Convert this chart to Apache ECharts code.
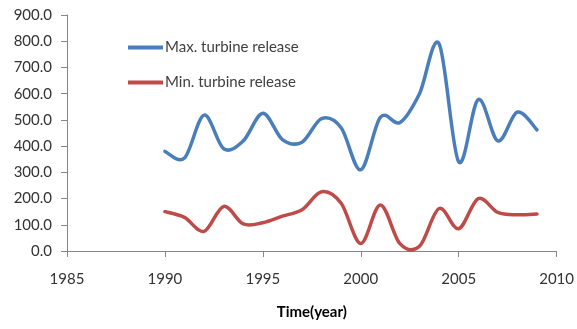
<!DOCTYPE html>
<html><head><meta charset="utf-8">
<script src="https://cdn.jsdelivr.net/npm/echarts@6/dist/echarts.min.js"></script>
<style>html,body{margin:0;padding:0;background:#fff}#c{width:577px;height:329px}</style>
</head><body><div id="c"></div>
<script>
const years = [1990,1991,1992,1993,1994,1995,1996,1997,1998,1999,2000,2001,2002,2003,2004,2005,2006,2007,2008,2009];
const maxRelease = [380,355,518,390,420,525,425,415,505,470,310,510,490,600,790,340,578,420,530,462];
const minRelease = [150,128,75,170,103,108,133,157,226,182,29,175,28,18,162,85,200,147,138,141];
const seriesNames = ['Max. turbine release','Min. turbine release'];
const xTitle = 'Time(year)';
const FONT = 'Lato, "Liberation Sans", sans-serif';
const COLORS = ['#4A7EBB','#BE4B48'];
const chart = echarts.init(document.getElementById('c'));
const pair = (xs, ys) => xs.map((x,i)=>[x, ys[i]]);
const chartDataFor = [pair(years,maxRelease), pair(years,minRelease)];

// Excel-style (Catmull-Rom) smoothed line, positioned through the chart's own axes
function smoothRenderer(color){
  return function(params, api){
    if (params.dataIndex !== 0) return;
    const data = chartDataFor[params.seriesIndex];
    const pts = data.map(d => api.coord(d));
    let p = 'M' + pts[0][0] + ' ' + pts[0][1];
    for (let i = 0; i < pts.length - 1; i++) {
      const p0 = pts[Math.max(0, i-1)], p1 = pts[i], p2 = pts[i+1], p3 = pts[Math.min(pts.length-1, i+2)];
      const c1x = p1[0] + (p2[0]-p0[0])/6, c1y = p1[1] + (p2[1]-p0[1])/6;
      const c2x = p2[0] - (p3[0]-p1[0])/6, c2y = p2[1] - (p3[1]-p1[1])/6;
      p += ' C' + c1x + ' ' + c1y + ' ' + c2x + ' ' + c2y + ' ' + p2[0] + ' ' + p2[1];
    }
    return {type:'path', shape:{pathData:p}, style:{fill:'none', stroke:color, lineWidth:3.5, lineJoin:'round', lineCap:'round'}};
  };
}

chart.setOption({
  animation:false,
  grid:{left:67,right:18,top:15,bottom:78},
  legend:{
    orient:'vertical', left:128, top:40, itemGap:20, padding:0,
    icon:'rect', itemWidth:35, itemHeight:4,
    textStyle:{fontFamily:FONT,fontSize:15,color:'#404040',padding:[0,0,0,-3]},
    data:seriesNames.map((n,i)=>({name:n,itemStyle:{color:COLORS[i]}}))
  },
  xAxis:{
    type:'value', min:1985, max:2010, interval:5,
    name:xTitle, nameLocation:'middle', nameGap:54,
    nameTextStyle:{fontFamily:FONT,fontSize:15,fontWeight:'bold',color:'#000'},
    axisLine:{lineStyle:{color:'#868686'}},
    axisTick:{show:true,length:6,lineStyle:{color:'#868686'}},
    axisLabel:{fontFamily:FONT,fontSize:15,color:'#333',margin:21,formatter:v=>String(v)},
    splitLine:{show:false}
  },
  yAxis:{
    type:'value', min:0, max:900, interval:100,
    axisLine:{show:true,lineStyle:{color:'#868686'}},
    axisTick:{show:true,length:6,lineStyle:{color:'#868686'}},
    axisLabel:{fontFamily:FONT,fontSize:15,color:'#333',margin:15,formatter:v=>v.toFixed(1)},
    splitLine:{show:false}
  },
  series:[
    {name:seriesNames[0],type:'custom',data:chartDataFor[0],renderItem:smoothRenderer(COLORS[0]),
     itemStyle:{color:COLORS[0]}},
    {name:seriesNames[1],type:'custom',data:chartDataFor[1],renderItem:smoothRenderer(COLORS[1]),
     itemStyle:{color:COLORS[1]}}
  ]
});
</script></body></html>
